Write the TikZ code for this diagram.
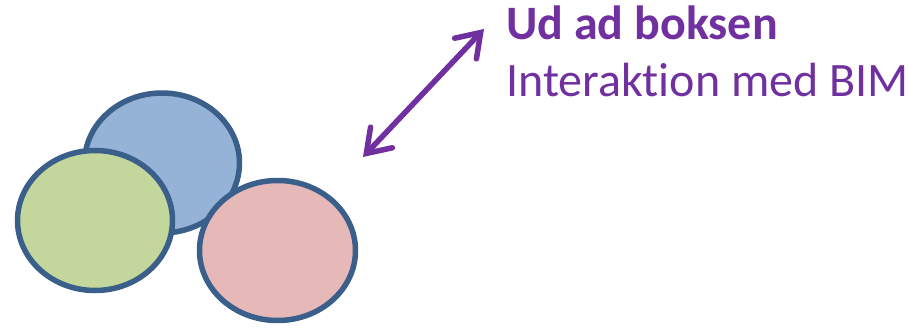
\documentclass[tikz,border=0pt]{standalone}
\usepackage{fontspec}
\setmainfont[Ligatures=NoCommon]{Carlito}
\usetikzlibrary{shapes.geometric,arrows.meta}
\definecolor{edgeblue}{HTML}{3A5F8B}
\definecolor{fillblue}{HTML}{95B3D7}
\definecolor{fillgreen}{HTML}{C3D69B}
\definecolor{fillpink}{HTML}{E6B9B8}
\definecolor{violet}{HTML}{7030A0}
\tikzset{
  bubble/.style={ellipse, draw=edgeblue, line width=5.5pt, inner sep=0pt, minimum width=155pt, minimum height=140pt},
  label/.style={anchor=base west, inner sep=0pt, text=violet, font=\fontsize{48}{56}\selectfont},
}
\begin{document}
\begin{tikzpicture}[x=1pt,y=1pt]
\useasboundingbox (0,0) rectangle (908,327);
\node[bubble, fill=fillblue] (blue) at (162,164) {};
\node[bubble, fill=fillgreen] (green) at (95,106.5) {};
\node[bubble, fill=fillpink, minimum width=156pt] (pink) at (277.5,76.5) {};
\coordinate (a) at (363,170);
\coordinate (b) at (484,298);
\draw[violet, line width=5.5pt, line cap=round, {Straight Barb[length=22pt,width=30pt,line cap=round]}-{Straight Barb[length=22pt,width=30pt,line cap=round]}] (a) -- (b);
\node[label, font=\fontsize{48}{56}\selectfont\bfseries] (title) at (506,287) {Ud ad boksen};
\node[label] (sub) at (506,230) {Interaktion med BIM};
\end{tikzpicture}
\end{document}
